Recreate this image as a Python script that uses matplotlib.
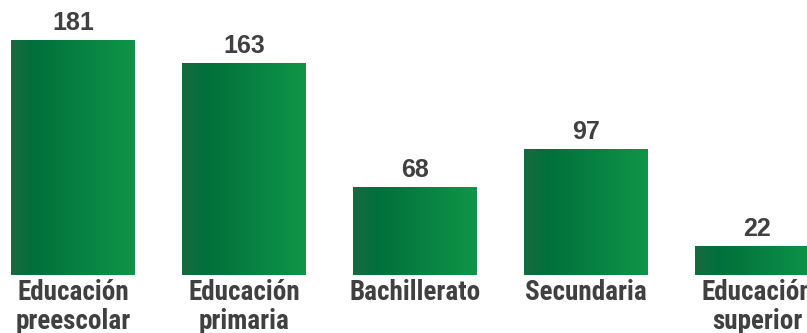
import numpy as np
import matplotlib
matplotlib.use("Agg")
import matplotlib.pyplot as plt
from matplotlib.colors import LinearSegmentedColormap

categories = ["Educación\npreescolar", "Educación\nprimaria", "Bachillerato",
              "Secundaria", "Educación\nsuperior"]
values = [181, 163, 68, 97, 22]

W, H = 807, 333
fig = plt.figure(figsize=(W / 100, H / 100), dpi=100)
ax = fig.add_axes([0, 0, 1, 1])

# pixel layout: bar pitch 171px, first centre at 73px, baseline 58px from bottom
pitch = 171.0
px_per_unit = 1.298
ax.set_xlim(-73 / pitch, (W - 73) / pitch)
ax.set_ylim(-58 / px_per_unit, (H - 58) / px_per_unit)
ax.axis("off")

cmap = LinearSegmentedColormap.from_list(
    "grn", [(0, "#176a3e"), (0.2, "#00703c"), (1, "#109548")])
grad = np.linspace(0, 1, 256).reshape(1, -1)

label_font = ["Roboto Condensed", "PT Sans Narrow", "Liberation Sans"]
value_font = ["Liberation Sans", "DejaVu Sans"]
grey = "#404040"
bw = 124 / pitch

x = np.arange(len(values))
bars = ax.bar(x, values, width=bw, color="none", edgecolor="none")
for b, v, xi, cat in zip(bars, values, x, categories):
    x0 = b.get_x()
    im = ax.imshow(grad, cmap=cmap, aspect="auto",
                   extent=[x0, x0 + bw, 0, v], zorder=2)
    im.set_clip_path(b)
    ax.text(xi, v + 10 / px_per_unit, str(v), ha="center", va="baseline",
            fontsize=18, fontweight="bold", color=grey, family=value_font)
    ax.text(xi, -4 / px_per_unit, cat, ha="center", va="top",
            fontsize=19.5, fontweight="bold", color=grey, family=label_font,
            linespacing=1.1)

fig.savefig("out.png", dpi=100)
